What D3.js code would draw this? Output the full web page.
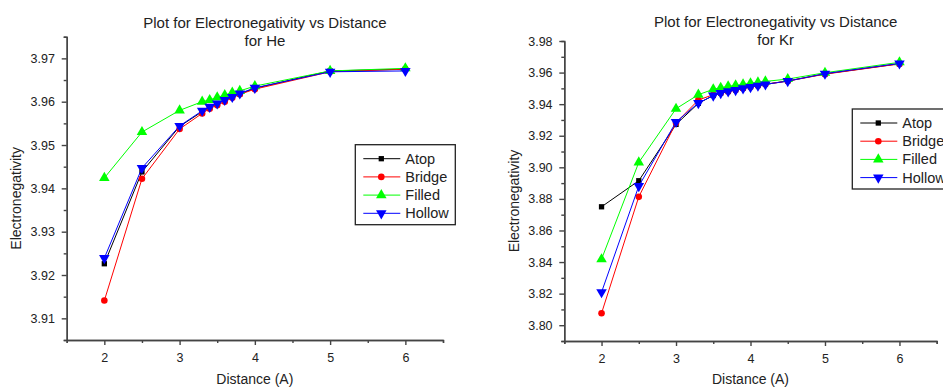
<!DOCTYPE html>
<html>
<head>
<meta charset="utf-8">
<script src="https://cdn.jsdelivr.net/npm/d3@7"></script>
<style>
  body { margin: 0; background: #fff; }
  text { font-family: "Liberation Sans", Arial, sans-serif; fill: #222; }
</style>
</head>
<body>
<svg id="chart" width="943" height="387"></svg>
<script>
// He panel
const distHe = [2, 2.5, 3, 3.3, 3.4, 3.5, 3.6, 3.7, 3.8, 4, 5, 6];
const heAtop   = [3.9226, 3.9438, 3.9543, 3.9577, 3.9587, 3.9594, 3.9604, 3.9611, 3.9618, 3.9631, 3.9671, 3.9675];
const heBridge = [3.9141, 3.9422, 3.9537, 3.9573, 3.9584, 3.9592, 3.9600, 3.9609, 3.9617, 3.9629, 3.9669, 3.9675];
const heFilled = [3.9424, 3.9530, 3.9580, 3.9600, 3.9604, 3.9610, 3.9615, 3.9621, 3.9625, 3.9636, 3.9671, 3.9677];
const heHollow = [3.9239, 3.9447, 3.9544, 3.9579, 3.9588, 3.9596, 3.9604, 3.9611, 3.9619, 3.9632, 3.9669, 3.9671];

// Kr panel
const distKr = [2, 2.5, 3, 3.3, 3.5, 3.6, 3.7, 3.8, 3.9, 4, 4.1, 4.2, 4.5, 5, 6];
const krAtop   = [3.8750, 3.8915, 3.9272, 3.9405, 3.9455, 3.9470, 3.9480, 3.9490, 3.9500, 3.9510, 3.9518, 3.9526, 3.9547, 3.9592, 3.9656];
const krBridge = [3.8076, 3.8813, 3.9282, 3.9426, 3.9460, 3.9472, 3.9482, 3.9491, 3.9501, 3.9510, 3.9518, 3.9526, 3.9546, 3.9590, 3.9655];
const krFilled = [3.8418, 3.9031, 3.9371, 3.9460, 3.9494, 3.9504, 3.9513, 3.9519, 3.9525, 3.9532, 3.9538, 3.9544, 3.9559, 3.9599, 3.9665];
const krHollow = [3.8209, 3.8881, 3.9287, 3.9407, 3.9454, 3.9470, 3.9481, 3.9489, 3.9500, 3.9508, 3.9517, 3.9525, 3.9546, 3.9593, 3.9658];

const seriesNames = ["Atop", "Bridge", "Filled", "Hollow"];
const xTicks = [2, 3, 4, 5, 6];
const xMinor = [1.5, 2.5, 3.5, 4.5, 5.5, 6.5];
const heYTicks = [3.91, 3.92, 3.93, 3.94, 3.95, 3.96, 3.97];
const heYMinor = [3.905, 3.915, 3.925, 3.935, 3.945, 3.955, 3.965, 3.975];
const krYTicks = [3.80, 3.82, 3.84, 3.86, 3.88, 3.90, 3.92, 3.94, 3.96, 3.98];
const krYMinor = [3.79, 3.81, 3.83, 3.85, 3.87, 3.89, 3.91, 3.93, 3.95, 3.97];

const colors = ["#000000", "#ff0000", "#00ff00", "#0000ff"];
const symbols = [
  d3.symbol().type(d3.symbolSquare).size(28),
  d3.symbol().type(d3.symbolCircle).size(34),
  d3.symbol().type(d3.symbolTriangle).size(48),
  d3.symbol().type(d3.symbolTriangle).size(48)
];
const rotations = [0, 0, 0, 180];

const svg = d3.select("#chart");

function drawPanel(p) {
  const x = d3.scaleLinear().domain([1.5, 6.5]).range([p.left, p.right]);
  const y = d3.scaleLinear().domain(p.yDomain).range([p.bottom, p.top]);
  const g = svg.append("g");

  // minor ticks
  g.append("g")
    .attr("transform", "translate(0," + p.bottom + ")")
    .call(d3.axisBottom(x).tickValues(xMinor).tickSize(3).tickFormat(""));
  g.append("g")
    .attr("transform", "translate(" + p.left + ",0)")
    .call(d3.axisLeft(y).tickValues(p.yMinor).tickSize(3).tickFormat(""));

  // major axes
  const xa = g.append("g")
    .attr("transform", "translate(0," + p.bottom + ")")
    .call(d3.axisBottom(x).tickValues(xTicks).tickSize(5).tickSizeOuter(0).tickFormat(d3.format("d")));
  const ya = g.append("g")
    .attr("transform", "translate(" + p.left + ",0)")
    .call(d3.axisLeft(y).tickValues(p.yTicks).tickSize(5).tickSizeOuter(0).tickFormat(d3.format(".2f")));

  g.selectAll(".domain, .tick line").attr("stroke", "#444").attr("stroke-width", 1.4);
  xa.selectAll("text").attr("font-size", 12.5).attr("dy", "1.1em");
  ya.selectAll("text").attr("font-size", 12.5).attr("dx", "-0.3em");
  g.selectAll(".tick text").style("font-family", "Liberation Sans, Arial, sans-serif").attr("fill", "#222");

  // series
  p.series.forEach((vals, i) => {
    const pts = p.dist.map((d, j) => [d, vals[j]]);
    g.append("path")
      .datum(pts)
      .attr("fill", "none")
      .attr("stroke", colors[i])
      .attr("stroke-width", 1)
      .attr("d", d3.line().x(d => x(d[0])).y(d => y(d[1])));
    g.selectAll(null)
      .data(pts)
      .enter()
      .append("path")
      .attr("d", symbols[i])
      .attr("fill", colors[i])
      .attr("transform", d => "translate(" + x(d[0]) + "," + y(d[1]) + ") rotate(" + rotations[i] + ")");
  });

  // titles
  const cx = p.titleX;
  svg.append("text").attr("x", cx).attr("y", p.titleY).attr("text-anchor", "middle")
    .attr("font-size", 15).text("Plot for Electronegativity vs Distance");
  svg.append("text").attr("x", cx).attr("y", p.titleY + 18).attr("text-anchor", "middle")
    .attr("font-size", 15).text(p.element);
  svg.append("text").attr("x", (p.left + p.right) / 2).attr("y", 384).attr("text-anchor", "middle")
    .attr("font-size", 14).text("Distance (A)");
  svg.append("text")
    .attr("transform", "translate(" + p.yLabelX + "," + ((p.top + p.bottom) / 2 + 10) + ") rotate(-90)")
    .attr("text-anchor", "middle").attr("font-size", 14).text("Electronegativity");

  // legend
  const lg = svg.append("g").attr("transform", "translate(" + p.legX + "," + p.legY + ")");
  lg.append("rect").attr("width", 100).attr("height", 80)
    .attr("fill", "#fff").attr("stroke", "#222").attr("stroke-width", 1.3);
  seriesNames.forEach((name, i) => {
    const ry = 14 + i * 18.2;
    lg.append("line").attr("x1", 8).attr("x2", 45).attr("y1", ry).attr("y2", ry)
      .attr("stroke", colors[i]).attr("stroke-width", 1);
    lg.append("path").attr("d", symbols[i]).attr("fill", colors[i])
      .attr("transform", "translate(26," + ry + ") rotate(" + rotations[i] + ")");
    lg.append("text").attr("x", 50).attr("y", ry + 5).attr("font-size", 14.5).text(name);
  });
}

drawPanel({
  left: 66.7, right: 443, top: 36.7, bottom: 340,
  yDomain: [3.905, 3.975], yTicks: heYTicks, yMinor: heYMinor,
  dist: distHe, series: [heAtop, heBridge, heFilled, heHollow],
  element: "for He", titleX: 265, titleY: 27.5, yLabelX: 21,
  legX: 355.3, legY: 144.7
});

drawPanel({
  left: 564.3, right: 936.7, top: 41, bottom: 341,
  yDomain: [3.79, 3.98], yTicks: krYTicks, yMinor: krYMinor,
  dist: distKr, series: [krAtop, krBridge, krFilled, krHollow],
  element: "for Kr", titleX: 775.7, titleY: 26.5, yLabelX: 519,
  legX: 852.3, legY: 109
});
</script>
</body>
</html>
